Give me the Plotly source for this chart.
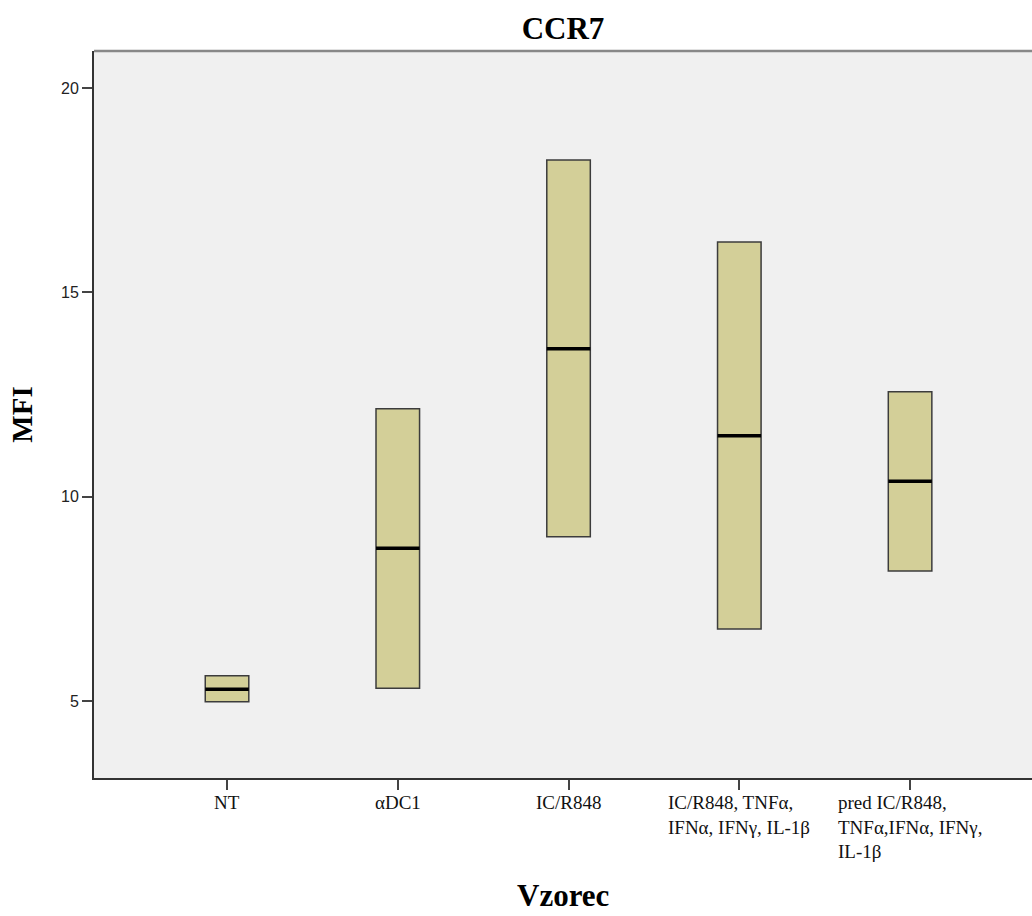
import plotly.graph_objects as go

# CCR7 expression (MFI) per sample group
groups = [
    "NT",
    "αDC1",
    "IC/R848",
    "IC/R848, TNFα,<br>IFNα, IFNγ, IL-1β",
    "pred IC/R848,<br>TNFα,IFNα, IFNγ,<br>IL-1β",
]
q1 = [4.98, 5.31, 9.02, 6.76, 8.18]
median = [5.29, 8.74, 13.62, 11.49, 10.38]
q3 = [5.62, 12.15, 18.24, 16.23, 12.57]
y_ticks = [5, 10, 15, 20]

pos = list(range(len(groups)))
box_w = 0.255
serif = "Liberation Serif, Times New Roman, serif"
sans = "Liberation Sans, Arial, sans-serif"

fig = go.Figure()

fig.add_trace(go.Box(
    x=pos,
    q1=q1,
    median=median,
    q3=q3,
    lowerfence=q1,
    upperfence=q3,
    width=box_w,
    whiskerwidth=0.5,
    fillcolor="#D3CF98",
    line=dict(color="#3c3c3c", width=1.5),
    boxpoints=False,
    showlegend=False,
    hoverinfo="skip",
))

# thick median bars
mx, my = [], []
for p, m in zip(pos, median):
    mx += [p - box_w / 2, p + box_w / 2, None]
    my += [m, m, None]
fig.add_trace(go.Scatter(
    x=mx, y=my, mode="lines",
    line=dict(color="black", width=3.5),
    showlegend=False, hoverinfo="skip",
))

# category labels (left-aligned blocks under each tick)
annotations = []
for p, g in zip(pos, groups):
    annotations.append(dict(
        x=p, y=0, xref="x", yref="paper",
        xanchor="center", yanchor="top", yshift=-12,
        text=g, showarrow=False, align="left",
        font=dict(family=serif, size=19, color="#111"),
    ))
annotations.append(dict(
    x=0.5, y=0, xref="paper", yref="paper",
    xanchor="center", yanchor="bottom", yshift=-137,
    text="<b>Vzorec</b>", showarrow=False,
    font=dict(family=serif, size=31, color="black"),
))

fig.update_layout(
    width=1032, height=916,
    margin=dict(l=94, r=0, t=51, b=138),
    paper_bgcolor="white",
    plot_bgcolor="#F0F0F0",
    title=dict(
        text="<b>CCR7</b>", x=0.5, xref="paper",
        y=1 - 28 / 916, yref="container", yanchor="middle", xanchor="center",
        font=dict(family=serif, size=31, color="black"),
    ),
    xaxis=dict(
        range=[-0.779, 4.714],
        tickvals=pos, showticklabels=False,
        ticks="outside", ticklen=10, tickwidth=2, tickcolor="#444",
        showline=True, linecolor="#333", linewidth=2,
        showgrid=False, zeroline=False,
    ),
    yaxis=dict(
        range=[3.116, 20.905],
        tickvals=y_ticks,
        ticks="outside", ticklen=10, tickwidth=2, tickcolor="#444",
        ticklabelstandoff=0,
        tickfont=dict(family=sans, size=16, color="#222"),
        showline=True, linecolor="#333", linewidth=2,
        showgrid=False, zeroline=False,
        title=dict(text="<b>MFI</b>", standoff=20,
                   font=dict(family=serif, size=29, color="black")),
    ),
    annotations=annotations,
    shapes=[dict(
        type="line", xref="paper", yref="paper",
        x0=0, x1=1, y0=1, y1=1,
        line=dict(color="#888", width=2.5),
    )],
)

fig.write_html("out.html")
